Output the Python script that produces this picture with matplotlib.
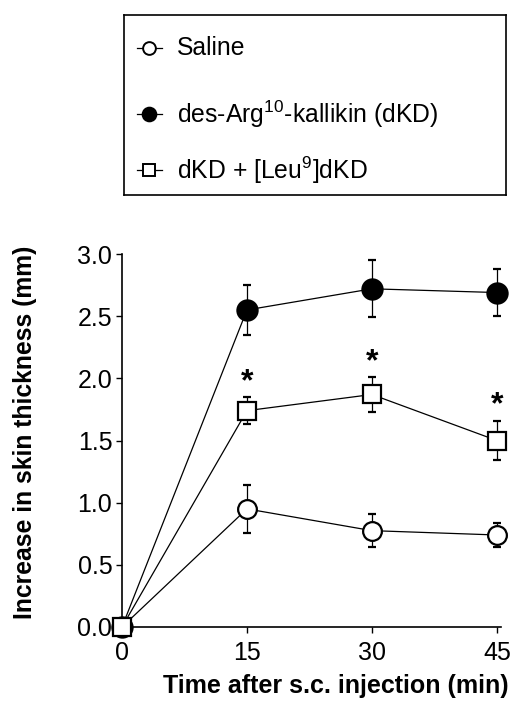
import matplotlib
matplotlib.use("Agg")
import matplotlib.pyplot as plt

plt.rcParams['font.family'] = ['Liberation Sans', 'DejaVu Sans']
plt.rcParams['mathtext.fontset'] = 'custom'
plt.rcParams['mathtext.rm'] = 'Liberation Sans'
plt.rcParams['mathtext.default'] = 'regular'

time_min = [0, 15, 30, 45]
saline = [0.0, 0.95, 0.775, 0.74]
saline_err = [0.0, 0.19, 0.13, 0.10]
dkd = [0.0, 2.55, 2.72, 2.69]
dkd_err = [0.0, 0.20, 0.23, 0.19]
leu = [0.0, 1.74, 1.87, 1.50]
leu_err = [0.0, 0.11, 0.14, 0.16]
star_idx = [1, 2, 3]

labels = ['Saline', 'des-Arg$^{10}$-kallikin (dKD)', 'dKD + [Leu$^{9}$]dKD']
xticks = [0, 15, 30, 45]
yticks = [0.0, 0.5, 1.0, 1.5, 2.0, 2.5, 3.0]

W, H = 514, 702
fig = plt.figure(figsize=(W / 100, H / 100), dpi=100)
ax = fig.add_axes([122 / W, (H - 627) / H, 379 / W, 373 / H])

lw = 0.9
mew = 1.6
common = dict(color='black', lw=lw, capsize=2.9, elinewidth=lw, capthick=lw,
              markeredgewidth=mew, clip_on=False)
specs = [
    (saline, saline_err, dict(marker='o', ms=13.5, mfc='white', mec='black')),
    (dkd, dkd_err, dict(marker='o', ms=14.5, mfc='black', mec='black')),
    (leu, leu_err, dict(marker='s', ms=13, mfc='white', mec='black')),
]
for i, (vals, errs, mk) in enumerate(specs):
    cont = ax.errorbar(time_min, vals, yerr=errs, zorder=3 + i, **common, **mk)
    for art in cont.lines[1] + cont.lines[2]:
        art.set_clip_on(False)
    for c in cont.lines[2]:
        c.set_zorder(2 + i)

for j in star_idx:
    ax.annotate('*', xy=(time_min[j], leu[j] + leu_err[j]), xytext=(0, 0),
                textcoords='offset points', ha='center', va='bottom',
                fontsize=23, fontweight='bold')

ax.set_xlim(0, 45.5)
ax.set_ylim(0, 3.0)
ax.set_xticks(xticks)
ax.set_xticklabels([str(t) for t in xticks])
ax.set_yticks(yticks)
ax.set_yticklabels([f'{v:.1f}' for v in yticks])
for s in ['top', 'right']:
    ax.spines[s].set_visible(False)
for s in ['left', 'bottom']:
    ax.spines[s].set_linewidth(1.2)
ax.tick_params(axis='both', direction='out', length=4, width=1.0,
               labelsize=18)
ax.tick_params(axis='x', pad=6)
ax.tick_params(axis='y', pad=3)
ax.set_xlabel('Time after s.c. injection (min)', fontsize=18, fontweight='bold')
ax.xaxis.set_label_coords(0.565, -0.125)
ax.set_ylabel('Increase in skin thickness (mm)', fontsize=17.8, fontweight='bold')
ax.yaxis.set_label_coords(-0.225, 0.523)

# legend box
lax = fig.add_axes([124 / W, (H - 195) / H, (506 - 124) / W, 180 / H])
lax.set_xlim(0, 1)
lax.set_ylim(0, 1)
lax.set_xticks([])
lax.set_yticks([])
for s in lax.spines.values():
    s.set_linewidth(1.2)
ys = [0.817, 0.45, 0.14]
for (vals, errs, mk), lab, y in zip(specs, labels, ys):
    m = dict(mk)
    m['ms'] = m['ms'] * 0.68
    lax.plot([0.034, 0.099], [y, y], color='black', lw=lw)
    lax.plot([0.066], [y], color='black', markeredgewidth=1.4, lw=0, **m)
    lax.text(0.139, y, lab, fontsize=17.8, va='center', ha='left')

fig.savefig('out.png', dpi=100)
